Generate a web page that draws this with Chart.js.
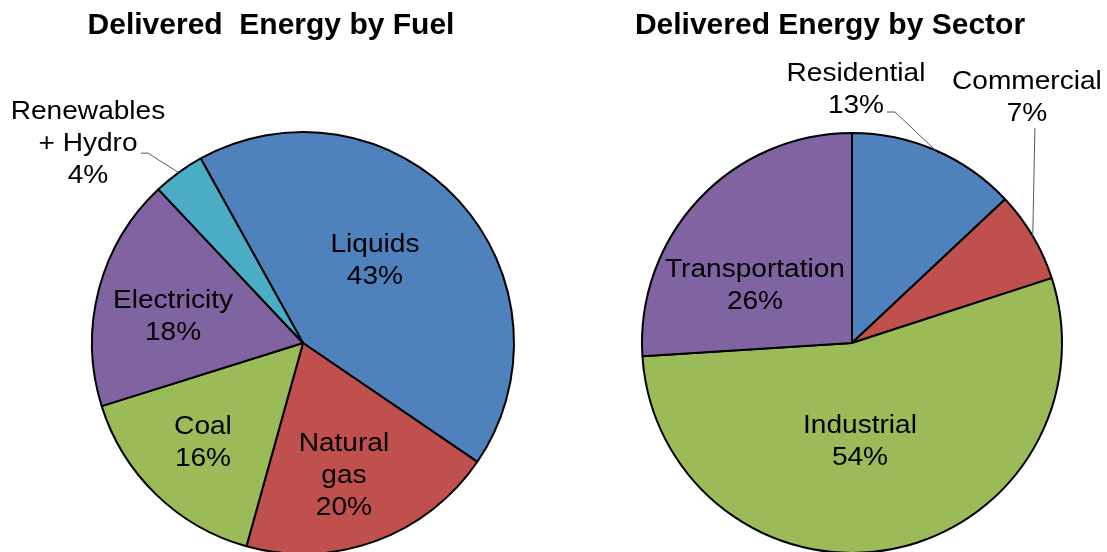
<!DOCTYPE html>
<html>
<head>
<meta charset="utf-8">
<script src="https://cdn.jsdelivr.net/npm/chart.js@4"></script>
<style>
  html, body { margin: 0; padding: 0; background: #fff; overflow: hidden; }
  #wrap { position: relative; width: 1107px; height: 552px; }
  canvas { position: absolute; top: 0; }
</style>
</head>
<body>
<div id="wrap">
  <canvas id="fuelChart" width="553" height="560" style="left:0"></canvas>
  <canvas id="sectorChart" width="554" height="560" style="left:553px"></canvas>
</div>
<script>
// --- DATA ---
const fuelNames = ['Liquids', 'Natural gas', 'Coal', 'Electricity', 'Renewables + Hydro'];
const fuelShares = [43, 20, 16, 18, 4];
const sectorNames = ['Residential', 'Commercial', 'Industrial', 'Transportation'];
const sectorShares = [13, 7, 54, 26];

// --- STYLE ---
const BLUE = '#4F81BD', RED = '#C0504D', GREEN = '#9BBB59', PURPLE = '#8064A2', CYAN = '#4BACC6';
const fuelColors = [BLUE, RED, GREEN, PURPLE, CYAN];
const sectorColors = [BLUE, RED, GREEN, PURPLE];

// label block centres as fractions of the radius from the pie centre,
// wrap = break name at first space, lead = leader line points (fractions of radius)
const fuelLabelLayout = [
    { fx: 0.341, fy: -0.398 },
    { fx: 0.194, fy: 0.621, wrap: true },
    { fx: -0.474, fy: 0.464 },
    { fx: -0.616, fy: -0.133 },
    { fx: -1.019, fy: -0.953, wrap: true, lead: [[-0.768, -0.900], [-0.735, -0.900]] }
];
const sectorLabelLayout = [
    { fx: 0.019, fy: -1.214, lead: [[0.167, -1.100], [0.205, -1.100]] },
    { fx: 0.833, fy: -1.176, lead: [[0.871, -1.024]] },
    { fx: 0.038, fy: 0.462 },
    { fx: -0.462, fy: -0.281 }
];

const FONT_FAMILY = '"Liberation Sans", Arial, sans-serif';
const LABEL_SIZE = 26;
const LINE_H = 32;

function wrapName(name, wrap) {
    if (!wrap) return [name];
    const i = name.indexOf(' ');
    return [name.slice(0, i), name.slice(i + 1)];
}

// draws title, slice labels and leader lines
function makeLabelPlugin(title, titleX, names, shares, layout) {
    return {
        id: 'pieLabels',
        afterDraw(chart) {
            const ctx = chart.ctx;
            ctx.save();
            ctx.fillStyle = '#000';
            ctx.textAlign = 'center';
            ctx.textBaseline = 'alphabetic';
            ctx.font = 'bold 30px ' + FONT_FAMILY;
            ctx.fillText(title, titleX, 34);

            const arcs = chart.getDatasetMeta(0).data;
            arcs.forEach((arc, i) => {
                const p = arc.getProps(['x', 'y', 'outerRadius', 'startAngle', 'endAngle'], true);
                const R = p.outerRadius;
                const L = layout[i];

                // leader line
                if (L.lead) {
                    const mid = (p.startAngle + p.endAngle) / 2;
                    ctx.strokeStyle = '#595959';
                    ctx.lineWidth = 1;
                    ctx.beginPath();
                    L.lead.forEach((pt, k) => {
                        const x = p.x + pt[0] * R, y = p.y + pt[1] * R;
                        if (k === 0) ctx.moveTo(x, y); else ctx.lineTo(x, y);
                    });
                    ctx.lineTo(p.x + Math.cos(mid) * R, p.y + Math.sin(mid) * R);
                    ctx.stroke();
                }

                const lines = wrapName(names[i], L.wrap).concat([shares[i] + '%']);
                const cx = p.x + L.fx * R;
                const cy = p.y + L.fy * R;
                const capH = LABEL_SIZE * 0.716;
                const blockH = capH + (lines.length - 1) * LINE_H;
                let base = cy - blockH / 2 + capH;
                ctx.font = LABEL_SIZE + 'px ' + FONT_FAMILY;
                lines.forEach(t => {
                    ctx.save();
                    ctx.translate(cx, base);
                    ctx.scale(1.08, 1);
                    ctx.fillText(t, 0, 0);
                    ctx.restore();
                    base += LINE_H;
                });
            });
            ctx.restore();
        }
    };
}

const bgPlugin = {
    id: 'bg',
    beforeDraw(chart) {
        const ctx = chart.ctx;
        ctx.save();
        ctx.fillStyle = '#fff';
        ctx.fillRect(0, 0, chart.width, chart.height);
        ctx.restore();
    }
};

function pieOptions(padding, rotation) {
    return {
        responsive: false,
        animation: false,
        rotation: rotation,
        layout: { padding: padding },
        plugins: {
            legend: { display: false },
            tooltip: { enabled: false },
            title: { display: false }
        }
    };
}

window.onload = () => {
    new Chart(document.getElementById('fuelChart').getContext('2d'), {
        type: 'pie',
        data: {
            labels: fuelNames,
            datasets: [{
                data: fuelShares,
                backgroundColor: fuelColors,
                borderColor: '#000',
                borderWidth: 2
            }]
        },
        options: pieOptions({ left: 91, top: 131, right: 38, bottom: 5 }, -29),
        plugins: [bgPlugin, makeLabelPlugin('Delivered  Energy by Fuel', 271, fuelNames, fuelShares, fuelLabelLayout)]
    });

    new Chart(document.getElementById('sectorChart').getContext('2d'), {
        type: 'pie',
        data: {
            labels: sectorNames,
            datasets: [{
                data: sectorShares,
                backgroundColor: sectorColors,
                borderColor: '#000',
                borderWidth: 2
            }]
        },
        options: pieOptions({ left: 88, top: 132, right: 44, bottom: 6 }, 0),
        plugins: [bgPlugin, makeLabelPlugin('Delivered Energy by Sector', 277, sectorNames, sectorShares, sectorLabelLayout)]
    });
};
</script>
</body>
</html>
